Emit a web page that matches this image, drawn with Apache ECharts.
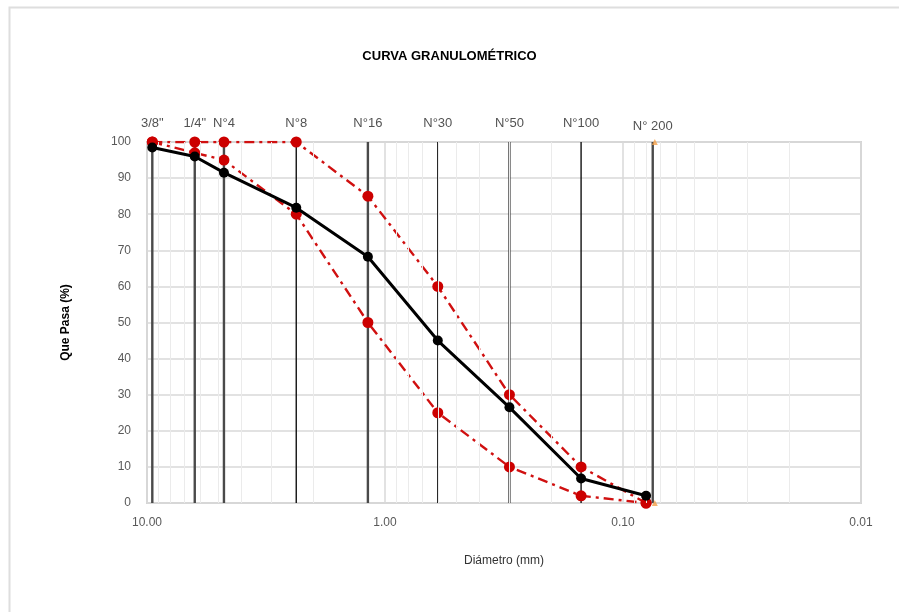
<!DOCTYPE html>
<html>
<head>
<meta charset="utf-8">
<title>Curva granulométrica</title>
<script src="https://cdn.jsdelivr.net/npm/echarts@6/dist/echarts.min.js"></script>
<style>
  html, body { margin: 0; padding: 0; background: #fff; }
  #chart { width: 899px; height: 612px; }
</style>
</head>
<body>
<div id="chart"></div>
<script>
// Sieve names and openings (mm)
const sieveNames = ['3/8"', '1/4"', 'N°4', 'N°8', 'N°16', 'N°30', 'N°50', 'N°100', 'N° 200'];
const sieveSizes = [9.5, 6.3, 4.75, 2.36, 1.18, 0.6, 0.3, 0.15, 0.075];
// Diameters at which the passing percentages are plotted
const sampleSizes = [9.5, 6.3, 4.75, 2.36, 1.18, 0.6, 0.3, 0.15, 0.08];
// Percent passing of the sample
const passing = [98.5, 96, 91.5, 81.8, 68.2, 45, 26.5, 6.8, 2];
// Specification band limits
const upperLimit = [100, 100, 100, 100, 85, 60, 30, 10, 0];
const lowerLimit = [100, 97, 95, 80, 50, 25, 10, 2, 0];
// Minor log gridlines (2..9 within each decade)
const minorGrid = [0.02, 0.03, 0.04, 0.05, 0.06, 0.07, 0.08, 0.09,
                   0.2, 0.3, 0.4, 0.5, 0.6, 0.7, 0.8, 0.9,
                   2, 3, 4, 5, 6, 7, 8, 9];
// Sieve line appearance: heavier grey or thin black
const sieveHeavy = [true, true, true, false, true, false, true, false, true];

const FONT = '"Liberation Sans", "DejaVu Sans", sans-serif';
const chart = echarts.init(document.getElementById('chart'), null, { renderer: 'canvas' });

const zip = (xs, ys) => xs.map((x, i) => [x, ys[i]]);
const redDash = [10, 5, 3, 5];

const series = [];

// Minor vertical gridlines
series.push({
  type: 'line', data: [], silent: true, z: 1,
  markLine: {
    silent: true, symbol: 'none', label: { show: false },
    lineStyle: { color: '#ebebeb', type: 'solid', width: 1 },
    data: minorGrid.map(v => ({ xAxis: v }))
  }
});

// Vertical sieve lines
sieveSizes.forEach((d, i) => {
  series.push({
    type: 'line', silent: true, symbol: 'none', z: 2,
    data: [[d, 0], [d, 100]],
    lineStyle: {
      color: sieveHeavy[i] ? '#4a4a4a' : '#111111',
      width: sieveHeavy[i] ? 2.4 : 1.4
    }
  });
});

// Sieve names above the plot
series.push({
  type: 'scatter', silent: true, symbolSize: 1, z: 3,
  itemStyle: { color: 'rgba(0,0,0,0)' },
  data: sieveSizes.map((d, i) => ({
    value: [d, 100],
    label: {
      show: true, position: 'top',
      distance: i === sieveNames.length - 1 ? 9 : 12,
      formatter: sieveNames[i],
      color: '#262626', fontSize: 13, fontFamily: FONT
    }
  }))
});

// Specification limits
[upperLimit, lowerLimit].forEach(lim => {
  series.push({
    type: 'line', silent: true, z: 4,
    data: zip(sampleSizes, lim),
    symbol: 'circle', symbolSize: 11,
    itemStyle: { color: '#cc0000' },
    lineStyle: { color: '#d01010', width: 2.4, type: redDash }
  });
});

// Sample grading curve
series.push({
  type: 'line', silent: true, z: 5,
  data: zip(sampleSizes, passing),
  symbol: 'circle', symbolSize: 10,
  itemStyle: { color: '#000000' },
  lineStyle: { color: '#000000', width: 3 }
});

// Orange end marks of the N° 200 line
series.push({
  type: 'scatter', silent: true, z: 3,
  symbol: 'triangle', symbolSize: 6,
  itemStyle: { color: '#f4a04a' },
  data: [[sieveSizes[8] * 0.98, 100], [sieveSizes[8] * 0.98, 0]]
});

const option = {
  animation: false,
  backgroundColor: '#ffffff',
  title: {
    text: 'CURVA GRANULOMÉTRICO',
    left: 'center', top: 45,
    textStyle: { fontFamily: FONT, fontSize: 13, fontWeight: 'bold', color: '#000' }
  },
  graphic: [{
    type: 'rect', silent: true,
    shape: { x: 9.5, y: 7.5, width: 1000, height: 1000 },
    style: { fill: 'none', stroke: '#dedede', lineWidth: 2 }
  }],
  grid: {
    left: 147, right: 38, top: 142, bottom: 109,
    show: true, borderColor: '#d4d4d4', borderWidth: 2
  },
  xAxis: {
    type: 'log', logBase: 10, min: 0.01, max: 10, inverse: true,
    name: 'Diámetro (mm)', nameLocation: 'middle', nameGap: 52,
    nameTextStyle: { fontFamily: FONT, fontSize: 12, color: '#333' },
    axisLine: { show: false },
    axisTick: { show: false },
    axisLabel: {
      margin: 14, color: '#595959', fontSize: 12, fontFamily: FONT,
      formatter: v => v.toFixed(2)
    },
    splitLine: { show: true, lineStyle: { color: '#d9d9d9', width: 1.5 } }
  },
  yAxis: {
    type: 'value', min: 0, max: 100, interval: 10,
    name: 'Que Pasa (%)', nameLocation: 'middle', nameGap: 75, nameRotate: 90,
    nameTextStyle: { fontFamily: FONT, fontSize: 12, fontWeight: 'bold', color: '#000' },
    axisLine: { show: false },
    axisTick: { show: false },
    axisLabel: { margin: 16, color: '#595959', fontSize: 12, fontFamily: FONT },
    splitLine: { show: true, lineStyle: { color: '#d9d9d9', width: 1.5 } }
  },
  series: series
};

chart.setOption(option);
</script>
</body>
</html>
